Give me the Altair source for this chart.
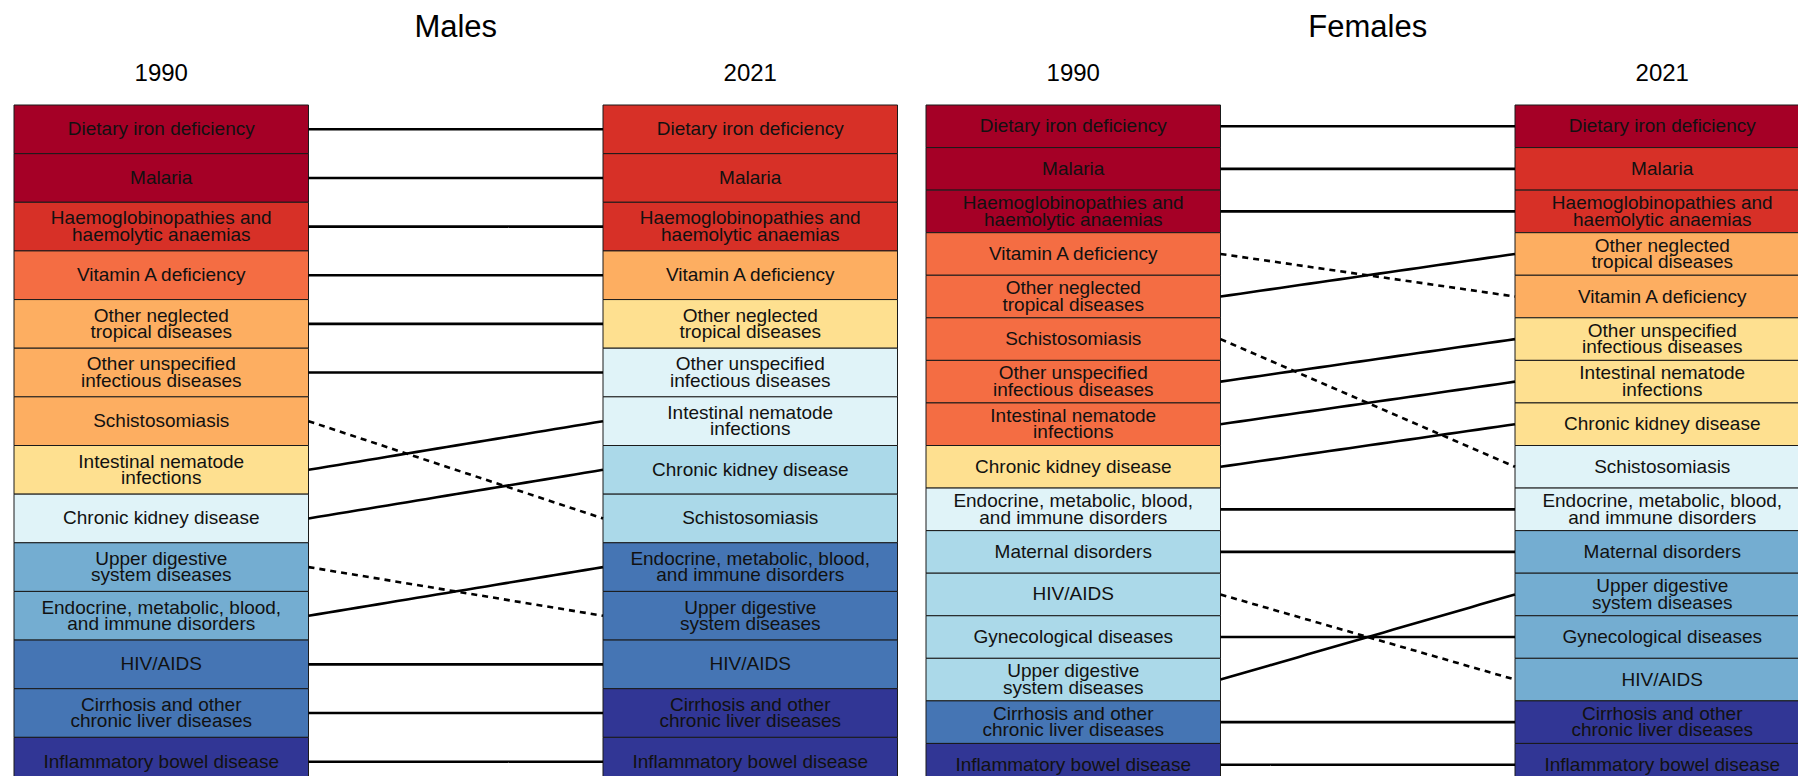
import altair as alt
import pandas as pd

# ---------------- data ----------------
males_1990 = [
    "Dietary iron deficiency", "Malaria",
    "Haemoglobinopathies and\nhaemolytic anaemias", "Vitamin A deficiency",
    "Other neglected\ntropical diseases", "Other unspecified\ninfectious diseases",
    "Schistosomiasis", "Intestinal nematode\ninfections", "Chronic kidney disease",
    "Upper digestive\nsystem diseases", "Endocrine, metabolic, blood,\nand immune disorders",
    "HIV/AIDS", "Cirrhosis and other\nchronic liver diseases", "Inflammatory bowel disease",
]
males_level_1990 = [0, 0, 1, 2, 3, 3, 3, 4, 5, 7, 7, 8, 8, 9]

males_2021 = [
    "Dietary iron deficiency", "Malaria",
    "Haemoglobinopathies and\nhaemolytic anaemias", "Vitamin A deficiency",
    "Other neglected\ntropical diseases", "Other unspecified\ninfectious diseases",
    "Intestinal nematode\ninfections", "Chronic kidney disease", "Schistosomiasis",
    "Endocrine, metabolic, blood,\nand immune disorders", "Upper digestive\nsystem diseases",
    "HIV/AIDS", "Cirrhosis and other\nchronic liver diseases", "Inflammatory bowel disease",
]
males_level_2021 = [1, 1, 1, 3, 4, 5, 5, 6, 6, 8, 8, 8, 9, 9]

females_1990 = [
    "Dietary iron deficiency", "Malaria",
    "Haemoglobinopathies and\nhaemolytic anaemias", "Vitamin A deficiency",
    "Other neglected\ntropical diseases", "Schistosomiasis",
    "Other unspecified\ninfectious diseases", "Intestinal nematode\ninfections",
    "Chronic kidney disease", "Endocrine, metabolic, blood,\nand immune disorders",
    "Maternal disorders", "HIV/AIDS", "Gynecological diseases",
    "Upper digestive\nsystem diseases", "Cirrhosis and other\nchronic liver diseases",
    "Inflammatory bowel disease",
]
females_level_1990 = [0, 0, 0, 2, 2, 2, 2, 2, 4, 5, 6, 6, 6, 6, 8, 9]

females_2021 = [
    "Dietary iron deficiency", "Malaria",
    "Haemoglobinopathies and\nhaemolytic anaemias", "Other neglected\ntropical diseases",
    "Vitamin A deficiency", "Other unspecified\ninfectious diseases",
    "Intestinal nematode\ninfections", "Chronic kidney disease", "Schistosomiasis",
    "Endocrine, metabolic, blood,\nand immune disorders", "Maternal disorders",
    "Upper digestive\nsystem diseases", "Gynecological diseases", "HIV/AIDS",
    "Cirrhosis and other\nchronic liver diseases", "Inflammatory bowel disease",
]
females_level_2021 = [0, 1, 1, 3, 3, 4, 4, 4, 5, 5, 7, 7, 7, 7, 9, 9]

panel_titles = ["Males", "Females"]
years = ["1990", "2021"]

PALETTE = ["#a50026", "#d73027", "#f46d43", "#fdae61", "#fee090",
           "#e0f3f8", "#abd9e9", "#74add1", "#4575b4", "#313695"]

# ---------------- layout (in box-width units) ----------------
U = 294.5
panel_offsets = [0.0, 912 / U]

panels = [
    (panel_titles[0], panel_offsets[0], males_1990, males_level_1990, males_2021, males_level_2021),
    (panel_titles[1], panel_offsets[1], females_1990, females_level_1990, females_2021, females_level_2021),
]

box_rows, line_rows, title_rows, year_rows = [], [], [], []
for title, off, n90, l90, n21, l21 in panels:
    n = len(n90)
    title_rows.append({"text": title, "x": off + 1.5, "y": -0.1135})
    for ci, (names, levels, yr) in enumerate([(n90, l90, years[0]), (n21, l21, years[1])]):
        x0 = off + 2 * ci
        year_rows.append({"text": yr, "x": x0 + 0.5, "y": -0.0455})
        for r, (nm, lv) in enumerate(zip(names, levels)):
            box_rows.append({
                "name": nm, "level": lv, "x0": x0, "x1": x0 + 1, "xm": x0 + 0.5,
                "y0": r / n, "y1": (r + 1) / n, "ym": (r + 0.5) / n,
                "multi": "\n" in nm,
            })
    for r90, nm in enumerate(n90):
        r21 = n21.index(nm)
        line_rows.append({
            "x": off + 1, "x2": off + 2,
            "y": (r90 + 0.5) / n, "y2": (r21 + 0.5) / n,
            "kind": "down" if r21 > r90 else "up",
        })

boxes = pd.DataFrame(box_rows)
lines = pd.DataFrame(line_rows)
titles = pd.DataFrame(title_rows)
yearlab = pd.DataFrame(year_rows)

W, H = 1790, 768
xs = alt.Scale(domain=[-6 / U, (W - 6) / U], nice=False, zero=False)
ys = alt.Scale(domain=[-97 / 681, (H - 97) / 681], nice=False, zero=False, reverse=True)


def X(f):
    return alt.X(f, type="quantitative", scale=xs, axis=None)


def Y(f):
    return alt.Y(f, type="quantitative", scale=ys, axis=None)


rects = alt.Chart(boxes).mark_rect(stroke="#1a1a1a", strokeWidth=1, clip=True).encode(
    x=X("x0"), x2="x1", y=Y("y0"), y2="y1",
    color=alt.Color("level:O", scale=alt.Scale(domain=list(range(10)), range=PALETTE), legend=None),
)

LH = 16.5
text_style = dict(fontSize=19, lineHeight=LH, font="Liberation Sans", lineBreak="\n",
                  color="#111111", baseline="middle", align="center", clip=True)

labels_one = alt.Chart(boxes).transform_filter("!datum.multi").mark_text(**text_style).encode(
    x=X("xm"), y=Y("ym"), text="name:N")
labels_two = alt.Chart(boxes).transform_filter("datum.multi").mark_text(dy=-LH / 2, **text_style).encode(
    x=X("xm"), y=Y("ym"), text="name:N")

links = alt.Chart(lines).mark_rule(strokeWidth=2.6, color="black").encode(
    x=X("x"), x2="x2", y=Y("y"), y2="y2",
    strokeDash=alt.StrokeDash("kind:N", scale=alt.Scale(domain=["up", "down"], range=[[10, 0], [6, 5]]), legend=None),
)

title_text = alt.Chart(titles).mark_text(
    fontSize=31, font="Liberation Sans", color="black", baseline="middle", align="center"
).encode(x=X("x"), y=Y("y"), text="text:N")

year_text = alt.Chart(yearlab).mark_text(
    fontSize=24, font="Liberation Sans", color="black", baseline="middle", align="center"
).encode(x=X("x"), y=Y("y"), text="text:N")

chart = alt.layer(rects, links, labels_one, labels_two, title_text, year_text).properties(
    width=W, height=H, padding=0, autosize=alt.AutoSizeParams(type="none")
).configure_view(stroke=None)

chart.save("out.html", embed_options={"renderer": "svg", "actions": False})
